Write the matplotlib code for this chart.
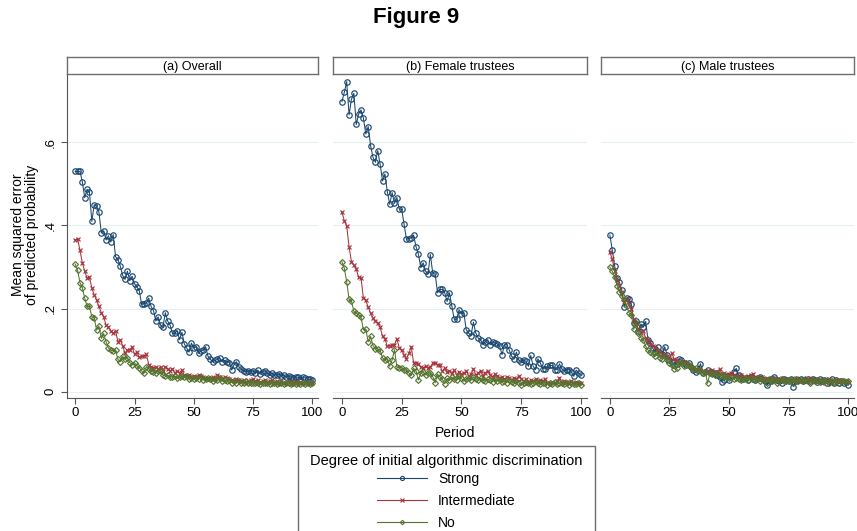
import matplotlib
matplotlib.use("Agg")
import matplotlib.pyplot as plt
from matplotlib.lines import Line2D
from matplotlib.patches import Rectangle

plt.rcParams['font.family'] = ['Liberation Sans', 'DejaVu Sans']

periods = list(range(101))

# (a) Overall
overall_strong = [
    .530, .530, .530, .505, .467, .487, .480, .410, .450, .447,
    .432, .382, .387, .365, .375, .360, .378, .325, .318, .302,
    .280, .270, .290, .267, .278, .260, .252, .243, .210, .212,
    .213, .225, .205, .195, .170, .180, .160, .155, .190, .170,
    .160, .140, .140, .147, .125, .143, .115, .105, .095, .117,
    .105, .108, .092, .098, .100, .108, .085, .078, .072, .075,
    .078, .080, .072, .075, .072, .070, .052, .065, .072, .060,
    .055, .050, .048, .050, .048, .050, .045, .052, .042, .048,
    .050, .045, .040, .045, .040, .040, .042, .038, .040, .035,
    .038, .035, .032, .035, .035, .030, .035, .033, .030, .030,
    .028]
overall_inter = [
    .365, .368, .340, .310, .290, .273, .275, .250, .233, .220,
    .205, .190, .180, .160, .155, .145, .140, .147, .120, .125,
    .110, .092, .100, .100, .108, .090, .095, .083, .085, .085,
    .090, .065, .060, .058, .060, .055, .060, .050, .060, .055,
    .050, .055, .045, .050, .045, .052, .040, .038, .040, .035,
    .038, .035, .040, .038, .035, .030, .032, .030, .035, .030,
    .040, .035, .030, .035, .032, .030, .028, .025, .030, .028,
    .025, .027, .022, .025, .028, .030, .025, .027, .022, .025,
    .028, .022, .025, .027, .022, .025, .022, .025, .020, .022,
    .025, .018, .022, .025, .020, .023, .020, .022, .020, .022,
    .020]
overall_no = [
    .307, .292, .262, .250, .225, .205, .205, .180, .178, .148,
    .158, .128, .140, .120, .105, .100, .098, .100, .078, .072,
    .085, .078, .082, .070, .065, .070, .062, .058, .050, .045,
    .060, .055, .050, .048, .045, .050, .050, .040, .038, .040,
    .035, .035, .038, .032, .035, .037, .035, .038, .030, .032,
    .030, .032, .030, .035, .028, .030, .033, .030, .025, .030,
    .028, .032, .025, .028, .025, .027, .022, .025, .022, .025,
    .022, .020, .025, .022, .020, .022, .020, .022, .018, .022,
    .020, .020, .018, .022, .020, .018, .020, .020, .018, .020,
    .022, .018, .020, .018, .020, .018, .020, .018, .020, .018,
    .020]

# (b) Female trustees
female_strong = [
    .698, .720, .746, .666, .704, .718, .643, .668, .678, .658,
    .620, .638, .592, .564, .552, .580, .547, .507, .524, .481,
    .451, .479, .453, .467, .439, .439, .403, .367, .368, .370,
    .377, .349, .331, .298, .310, .290, .283, .330, .285, .283,
    .238, .246, .246, .238, .217, .238, .205, .174, .174, .197,
    .187, .190, .149, .141, .135, .167, .141, .129, .125, .113,
    .120, .125, .113, .120, .117, .115, .109, .089, .113, .113,
    .100, .085, .079, .095, .076, .071, .077, .073, .061, .087,
    .061, .053, .079, .069, .055, .055, .061, .063, .063, .053,
    .053, .067, .055, .049, .053, .053, .047, .037, .052, .044,
    .040]
female_inter = [
    .433, .411, .399, .348, .313, .305, .295, .275, .273, .225,
    .220, .203, .189, .177, .169, .165, .155, .133, .127, .109,
    .111, .113, .113, .127, .105, .100, .089, .079, .092, .108,
    .069, .069, .067, .059, .057, .061, .057, .059, .069, .069,
    .065, .063, .049, .057, .047, .050, .045, .052, .040, .048,
    .042, .045, .050, .038, .042, .055, .040, .045, .050, .038,
    .045, .050, .040, .035, .042, .038, .033, .036, .030, .035,
    .032, .028, .034, .030, .038, .030, .025, .030, .022, .028,
    .025, .030, .024, .028, .026, .030, .022, .020, .024, .022,
    .025, .034, .022, .026, .024, .022, .025, .020, .024, .022,
    .020]
female_no = [
    .313, .297, .265, .222, .218, .193, .189, .185, .179, .149,
    .150, .120, .133, .111, .103, .103, .099, .081, .077, .079,
    .061, .076, .101, .059, .058, .058, .053, .051, .045, .039,
    .056, .050, .028, .044, .048, .040, .045, .044, .036, .021,
    .042, .036, .030, .019, .032, .027, .035, .030, .028, .038,
    .032, .025, .030, .033, .028, .035, .030, .027, .032, .028,
    .025, .030, .027, .024, .030, .026, .028, .023, .025, .022,
    .027, .024, .020, .025, .022, .015, .020, .024, .020, .018,
    .022, .025, .020, .018, .022, .020, .017, .021, .019, .023,
    .018, .020, .022, .018, .020, .017, .021, .019, .018, .020,
    .017]

# (c) Male trustees
male_strong = [
    .377, .341, .303, .273, .263, .245, .203, .225, .223, .211,
    .166, .171, .145, .163, .155, .169, .124, .116, .104, .096,
    .107, .094, .091, .108, .088, .076, .072, .064, .067, .078,
    .076, .070, .064, .070, .060, .052, .048, .051, .067, .046,
    .048, .052, .048, .044, .044, .040, .036, .024, .028, .038,
    .028, .040, .048, .056, .040, .035, .030, .032, .028, .035,
    .030, .028, .032, .036, .030, .026, .016, .025, .030, .036,
    .028, .025, .020, .030, .028, .025, .030, .012, .025, .028,
    .030, .025, .028, .030, .026, .030, .028, .024, .030, .025,
    .028, .022, .025, .030, .020, .028, .022, .025, .020, .024,
    .016]
male_inter = [
    .335, .320, .290, .268, .255, .240, .215, .222, .210, .200,
    .175, .165, .150, .140, .145, .130, .125, .115, .110, .108,
    .100, .098, .090, .088, .085, .080, .092, .078, .075, .072,
    .070, .072, .068, .064, .060, .058, .055, .052, .055, .050,
    .048, .050, .046, .052, .048, .045, .055, .042, .044, .040,
    .042, .045, .040, .038, .036, .040, .035, .032, .038, .040,
    .042, .035, .030, .033, .035, .030, .032, .028, .030, .033,
    .030, .028, .032, .026, .030, .028, .025, .030, .032, .026,
    .028, .030, .025, .030, .032, .026, .028, .025, .030, .022,
    .028, .025, .030, .022, .026, .028, .024, .027, .025, .026,
    .024]
male_no = [
    .300, .290, .275, .255, .240, .230, .220, .205, .190, .185,
    .150, .165, .140, .130, .125, .110, .100, .095, .090, .085,
    .095, .082, .078, .085, .075, .070, .065, .055, .058, .070,
    .068, .062, .070, .065, .060, .055, .058, .050, .052, .045,
    .048, .020, .045, .042, .040, .044, .038, .040, .036, .035,
    .032, .035, .030, .034, .030, .028, .032, .030, .029, .033,
    .030, .028, .032, .026, .030, .028, .022, .030, .025, .028,
    .022, .028, .030, .025, .026, .027, .028, .022, .030, .026,
    .028, .025, .030, .026, .022, .028, .025, .028, .024, .026,
    .025, .028, .022, .026, .024, .027, .022, .025, .026, .024,
    .025]

panel_titles = ["(a) Overall", "(b) Female trustees", "(c) Male trustees"]
series_labels = ["Strong", "Intermediate", "No"]
panels = [
    [overall_strong, overall_inter, overall_no],
    [female_strong, female_inter, female_no],
    [male_strong, male_inter, male_no],
]

colors = ["#1a476f", "#a8343d", "#55752f"]
markers = ["o", "x", "D"]
msizes = [3.9, 3.3, 3.0]

W, H = 857, 531
fig = plt.figure(figsize=(W / 100, H / 100), dpi=100)

lefts = [66.7, 333.3, 601.3]
widths = [251.3, 253.4, 252.7]
ax_top, ax_bot = 74.3, 398.3
strip_h = 17

for i, (left, width) in enumerate(zip(lefts, widths)):
    ax = fig.add_axes([left / W, 1 - ax_bot / H, width / W, (ax_bot - ax_top) / H])
    for vals, c, m, ms in zip(panels[i], colors, markers, msizes):
        ax.plot(periods, vals, color=c, lw=0.75, marker=m, ms=ms,
                mfc="none", mec=c, mew=0.85, zorder=3)
    ax.set_xlim(-3.6, 102.4)
    ax.set_ylim(-0.016, 0.7637)
    ax.set_xticks([0, 25, 50, 75, 100])
    ax.set_yticks([0, .2, .4, .6])
    ax.grid(axis="y", color="#e6eff1", lw=0.8, zorder=0)
    for s in ["top", "right"]:
        ax.spines[s].set_visible(False)
    ax.spines["bottom"].set_color("#555555")
    ax.spines["left"].set_color("#555555")
    ax.tick_params(axis="x", labelsize=9.5, length=4, color="#555555", pad=2)
    if i == 0:
        ax.set_yticklabels(["0", ".2", ".4", ".6"], rotation=90, va="center")
        ax.tick_params(axis="y", labelsize=9.5, length=4, color="#555555", pad=3)
    else:
        ax.spines["left"].set_visible(False)
        ax.tick_params(axis="y", left=False, labelleft=False)

    sax = fig.add_axes([left / W, 1 - ax_top / H, width / W, strip_h / H])
    sax.set_xticks([])
    sax.set_yticks([])
    for s in sax.spines.values():
        s.set_color("#6e6e6e")
        s.set_linewidth(1.0)
    sax.text(0.5, 0.45, panel_titles[i], ha="center", va="center",
             fontsize=9, transform=sax.transAxes)

fig.text(416 / W, 1 - 18 / H, "Figure 9", ha="center", va="center",
         fontsize=16, fontweight="bold")
fig.text(455 / W, 1 - 433 / H, "Period", ha="center", va="center", fontsize=10)
fig.text(25 / W, 1 - 235 / H, "Mean squared error\nof predicted probability",
         rotation=90, ha="center", va="center", fontsize=10,
         multialignment="center", linespacing=1.0)

# legend box, title and entries (box runs off the bottom edge)
fig.patches.append(Rectangle((298 / W, -0.02), (595 - 298) / W, (H - 446) / H + 0.02,
                             transform=fig.transFigure, fill=False,
                             edgecolor="#6e6e6e", lw=1.0))
fig.text(446 / W, 1 - 461 / H, "Degree of initial algorithmic discrimination",
         ha="center", va="center", fontsize=10.5)
handles = [Line2D([0], [0], color=c, lw=0.8, marker=m, ms=ms * 0.75,
                  mfc="none", mec=c, mew=0.8)
           for c, m, ms in zip(colors, markers, msizes)]
leg = fig.legend(handles, series_labels, loc="upper left",
                 bbox_to_anchor=(377 / W, 1 - 471.5 / H), frameon=False,
                 fontsize=10, handlelength=3.6, labelspacing=0.58,
                 borderpad=0, borderaxespad=0, handletextpad=0.8)

fig.savefig("out.png", dpi=100)
